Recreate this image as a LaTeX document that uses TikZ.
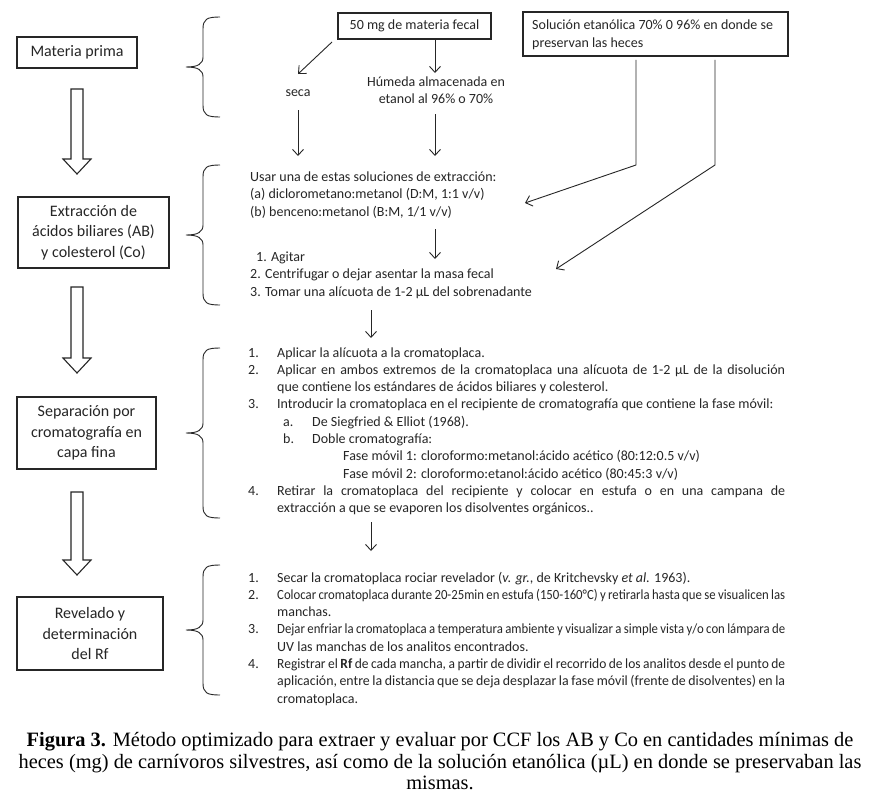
\documentclass[tikz,border=0pt]{standalone}
\usepackage{fontspec}
\usepackage{graphicx}
\setmainfont{Carlito}
\newfontfamily\capfont{Liberation Serif}
\usetikzlibrary{arrows.meta}
\definecolor{ink}{HTML}{262626}
\newsavebox{\jlbox}
\newcommand{\jline}[1]{{\spaceskip=2.6pt plus 8pt\relax\sbox{\jlbox}{#1}\ifdim\wd\jlbox>508pt\relax\resizebox{508pt}{\height}{#1}\else\makebox[508pt][s]{#1}\fi}}
\newcommand{\blockarr}[3]{%
  \draw[blockarrow] (#1-6,#2) -- (#1+6,#2) -- (#1+6,#3-15) -- (#1+14,#3-15) -- (#1,#3) -- (#1-14,#3-15) -- (#1-6,#3-15) -- cycle;}
\newcommand{\sidebrace}[2]{% top, bottom
  \draw[bracepath] (220,#1) .. controls (207,#1) and (203,#1+2) .. (203,#1+12)
     -- (203,{(#1+#2)/2-10}) .. controls (203,{(#1+#2)/2-3}) and (198,{(#1+#2)/2}) .. (186,{(#1+#2)/2})
     .. controls (198,{(#1+#2)/2}) and (203,{(#1+#2)/2+3}) .. (203,{(#1+#2)/2+10})
     -- (203,#2-12) .. controls (203,#2-2) and (207,#2) .. (220,#2);}
\tikzset{
  box/.style={draw=ink, line width=1.1pt, inner sep=0pt, text=ink, font=\fontsize{16}{20.3}\selectfont, align=center},
  blockarrow/.style={draw=ink, line width=1.1pt, fill=white},
  bracepath/.style={draw=ink, line width=0.9pt},
  arr/.style={draw=ink, line width=0.9pt, -{Straight Barb[length=6pt,width=11pt]}},
  ln/.style={anchor=base west, inner sep=0pt, text=ink, font=\fontsize{14}{17}\selectfont},
  captext/.style={anchor=base, inner sep=0pt, text=black, font=\capfont\fontsize{20.4}{22}\selectfont},
}
\begin{document}
\begin{tikzpicture}[x=1pt,y=-1pt]
\useasboundingbox[fill=white] (0,0) rectangle (880,808);

% left column boxes
\node[box, minimum width=120pt, minimum height=31pt] (mp) at (77,52.5) {Materia prima};
\node[box, minimum width=151pt, minimum height=71pt] (ex) at (93.5,232.5) {Extracción de\\ácidos biliares (AB)\\y colesterol (Co)};
\node[box, minimum width=139pt, minimum height=72pt] (sep) at (86.5,433) {Separación por\\cromatografía en\\capa fina};
\node[box, minimum width=146pt, minimum height=73pt] (rev) at (90,633.5) {Revelado y\\determinación\\del Rf};

\blockarr{77}{89}{174}
\blockarr{77}{287}{373}
\blockarr{77}{492}{575}

% braces
\sidebrace{17}{117}
\sidebrace{165}{305}
\sidebrace{348}{518}
\sidebrace{565}{695}

% top boxes
\node[box, font=\fontsize{14}{17}\selectfont, minimum width=153pt, minimum height=26pt] (fecal) at (414.5,26) {50 mg de materia fecal};
\node[draw=ink, line width=1.1pt, minimum width=265pt, minimum height=44pt, inner sep=0pt] (sol) at (655.5,34) {};
\node[ln] (sol1) at (532,30) {Solución etanólica 70\% 0 96\% en donde se};
\node[ln] (sol2) at (532,47.5) {preservan las heces};

\node[ln, anchor=base] (seca) at (298,96) {seca};
\node[ln, anchor=base] (hum1) at (436,86) {Húmeda almacenada en};
\node[ln, anchor=base] (hum2) at (436,103) {etanol al 96\% o 70\%};

% block 2
\node[ln] (u1) at (250,181) {Usar una de estas soluciones de extracción:};
\node[ln] (u2) at (250,198.5) {(a) diclorometano:metanol (D:M, 1:1 v/v)};
\node[ln] (u3) at (250,216) {(b) benceno:metanol (B:M, 1/1 v/v)};
\node[ln] (p1) at (256,261) {1. Agitar};
\node[ln] (p2) at (250,278.5) {2. Centrifugar o dejar asentar la masa fecal};
\node[ln] (p3) at (250,296) {3. Tomar una alícuota de 1-2 µL del sobrenadante};

% connectors top
\coordinate (fa) at (332,42);
\coordinate (fb) at (298,74);
\draw[arr] (fa) -- (fb);
\coordinate (fc) at (435,40);
\coordinate (fd) at (435,73);
\draw[arr] (fc) -- (fd);
\coordinate (sa) at (298,110);
\coordinate (sb) at (298,156);
\draw[arr] (sa) -- (sb);
\coordinate (ha) at (435,114);
\coordinate (hb) at (435,156);
\draw[arr] (ha) -- (hb);
\coordinate (ua) at (435,229);
\coordinate (ub) at (435,259);
\draw[arr] (ua) -- (ub);
\coordinate (pa) at (371,310);
\coordinate (pb) at (371,338);
\draw[arr] (pa) -- (pb);
\coordinate (s1a) at (636,60);
\coordinate (s1b) at (636,165);
\coordinate (s1c) at (525,203);
\draw[arr] (s1a) -- (s1b) -- (s1c);
\coordinate (s2a) at (715,60);
\coordinate (s2b) at (715,165);
\coordinate (s2c) at (556,269);
\draw[arr] (s2a) -- (s2b) -- (s2c);

% block 3
\node[ln] (n31) at (248,357) {1.};
\node[ln] (t31) at (277,357) {Aplicar la alícuota a la cromatoplaca.};
\node[ln] (n32) at (248,374.3) {2.};
\node[ln] (t32) at (277,374.3) {\jline{Aplicar en ambos extremos de la cromatoplaca una alícuota de 1-2 µL de la disolución}};
\node[ln] (t32b) at (277,391.6) {que contiene los estándares de ácidos biliares y colesterol.};
\node[ln] (n33) at (248,408.9) {3.};
\node[ln] (t33) at (277,408.9) {Introducir la cromatoplaca en el recipiente de cromatografía que contiene la fase móvil:};
\node[ln] (n33a) at (283,426.2) {a.};
\node[ln] (t33a) at (312,426.2) {De Siegfried \& Elliot (1968).};
\node[ln] (n33b) at (283,443.5) {b.};
\node[ln] (t33b) at (312,443.5) {Doble cromatografía:};
\node[ln] (f1) at (343,460.8) {Fase móvil 1: cloroformo:metanol:ácido acético (80:12:0.5 v/v)};
\node[ln] (f2) at (343,478.1) {Fase móvil 2: cloroformo:etanol:ácido acético (80:45:3 v/v)};
\node[ln] (n34) at (248,495.4) {4.};
\node[ln] (t34) at (277,495.4) {\jline{Retirar la cromatoplaca del recipiente y colocar en estufa o en una campana de}};
\node[ln] (t34b) at (277,512.7) {extracción a que se evaporen los disolventes orgánicos..};

\coordinate (qa) at (371,522);
\coordinate (qb) at (371,551);
\draw[arr] (qa) -- (qb);

% block 4
\node[ln] (n41) at (248,582) {1.};
\node[ln] (t41) at (277,582) {Secar la cromatoplaca rociar revelador (\textit{v. gr.}, de Kritchevsky \textit{et al.} 1963).};
\node[ln] (n42) at (248,599.3) {2.};
\node[ln] (t42) at (277,599.3) {\jline{Colocar cromatoplaca durante 20-25min en estufa (150-160°C) y retirarla hasta que se visualicen las}};
\node[ln] (t42b) at (277,616.6) {manchas.};
\node[ln] (n43) at (248,633.9) {3.};
\node[ln] (t43) at (277,633.9) {\jline{Dejar enfriar la cromatoplaca a temperatura ambiente y visualizar a simple vista y/o con lámpara de}};
\node[ln] (t43b) at (277,651.2) {UV las manchas de los analitos encontrados.};
\node[ln] (n44) at (248,668.5) {4.};
\node[ln] (t44) at (277,668.5) {\jline{Registrar el \textbf{Rf} de cada mancha, a partir de dividir el recorrido de los analitos desde el punto de}};
\node[ln] (t44b) at (277,685.8) {\jline{aplicación, entre la distancia que se deja desplazar la fase móvil (frente de disolventes) en la}};
\node[ln] (t44c) at (277,703.1) {cromatoplaca.};

% caption
\node[captext] (c1) at (440,746) {\textbf{Figura 3.} Método optimizado para extraer y evaluar por CCF los AB y Co en cantidades mínimas de};
\node[captext] (c2) at (440,768) {heces (mg) de carnívoros silvestres, así como de la solución etanólica (µL) en donde se preservaban las};
\node[captext] (c3) at (440,789) {mismas.};
\end{tikzpicture}
\end{document}
